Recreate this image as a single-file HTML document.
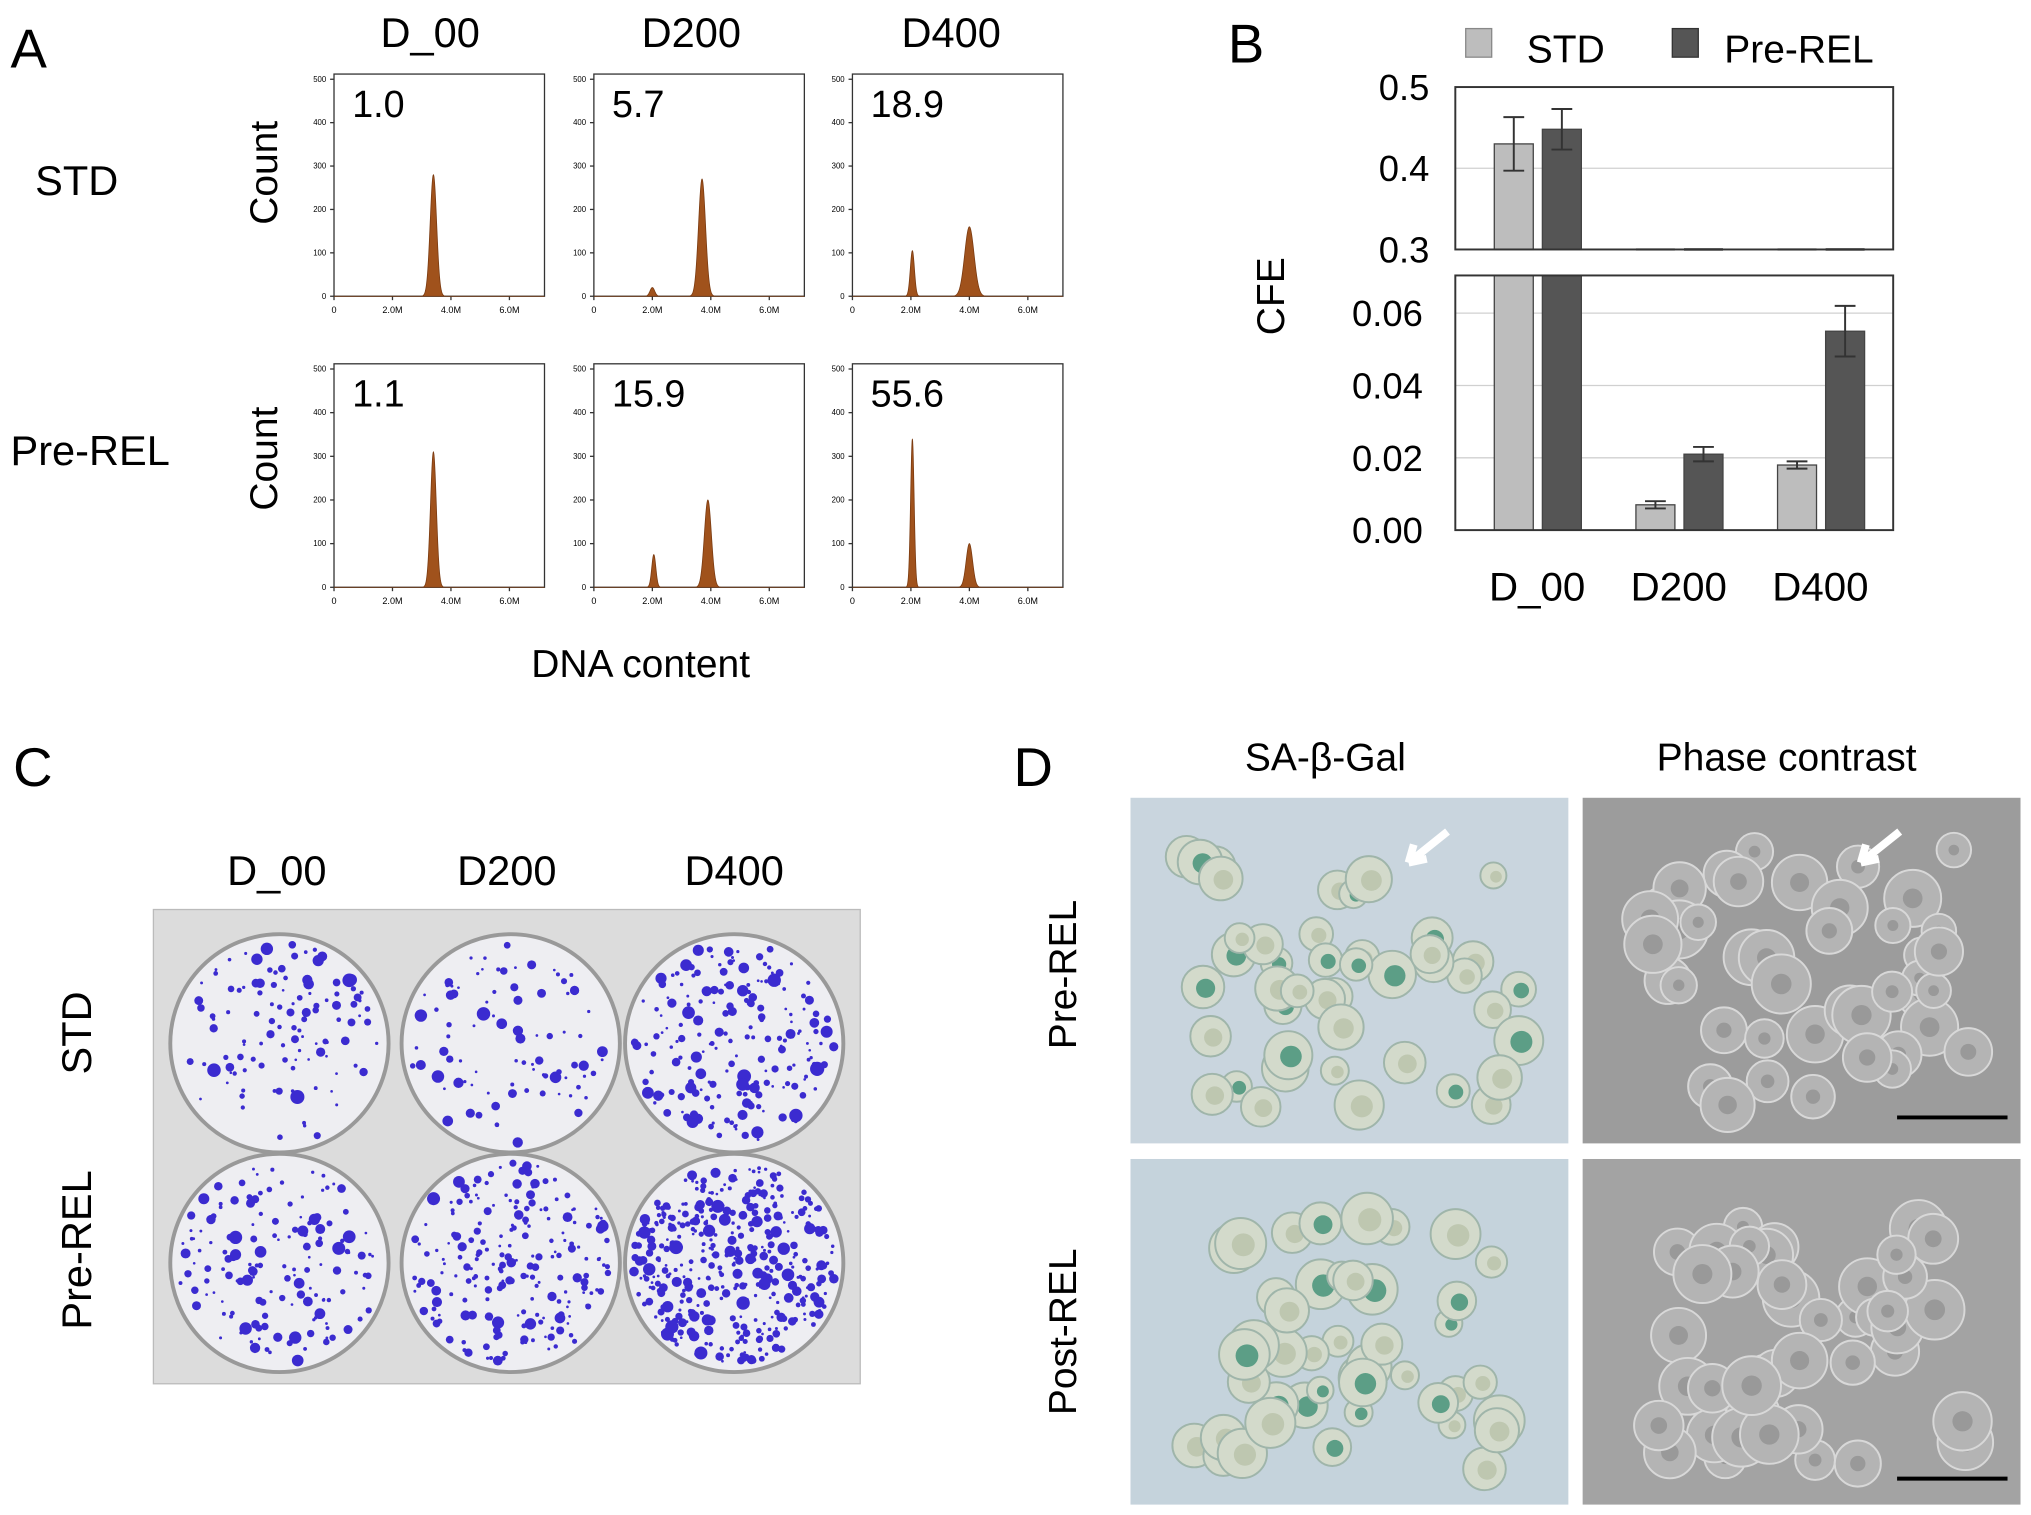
<!DOCTYPE html>
<html><head><meta charset="utf-8"><style>
html,body{margin:0;padding:0;background:#fff}
svg{display:block}
text{font-family:"Liberation Sans",sans-serif}
</style></head><body>
<svg id="fig" width="2031" height="1515" viewBox="0 0 1563 1166" xmlns="http://www.w3.org/2000/svg">
<rect width="1563" height="1166" fill="#fff"/>
<g id="panelA">
<text x="8" y="52" font-size="42">A</text>
<text x="331" y="36" font-size="32" text-anchor="middle">D_00</text>
<text x="532" y="36" font-size="32" text-anchor="middle">D200</text>
<text x="732" y="36" font-size="32" text-anchor="middle">D400</text>
<text x="27" y="150" font-size="32">STD</text>
<text x="8" y="358" font-size="32">Pre-REL</text>
<text transform="translate(213,133) rotate(-90)" font-size="30" text-anchor="middle">Count</text>
<text transform="translate(213,353) rotate(-90)" font-size="30" text-anchor="middle">Count</text>
<text x="493" y="521" font-size="30" text-anchor="middle">DNA content</text>
</g>
<g id="panelB">
<text x="945" y="48" font-size="42">B</text>
<rect x="1128" y="22" width="20" height="22" fill="#bdbdbd" stroke="#888"/>
<text x="1175" y="48" font-size="30">STD</text>
<rect x="1287" y="22" width="20" height="22" fill="#555" stroke="#333"/>
<text x="1327" y="48" font-size="30">Pre-REL</text>
<text transform="translate(988,228) rotate(-90)" font-size="30" text-anchor="middle">CFE</text>
</g>
<g id="panelC">
<text x="10" y="605" font-size="42">C</text>
<text x="213" y="681" font-size="32" text-anchor="middle">D_00</text>
<text x="390" y="681" font-size="32" text-anchor="middle">D200</text>
<text x="565" y="681" font-size="32" text-anchor="middle">D400</text>
<text transform="translate(70,795) rotate(-90)" font-size="32" text-anchor="middle">STD</text>
<text transform="translate(70,962) rotate(-90)" font-size="32" text-anchor="middle">Pre-REL</text>
<rect x="118" y="700" width="544" height="365" fill="#dcdcdc" stroke="#bbb"/>
</g>
<g id="panelD">
<text x="780" y="605" font-size="42">D</text>
<text x="1020" y="593" font-size="30" text-anchor="middle">SA-β-Gal</text>
<text x="1375" y="593" font-size="30" text-anchor="middle">Phase contrast</text>
<text transform="translate(828,750) rotate(-90)" font-size="30" text-anchor="middle">Pre-REL</text>
<text transform="translate(828,1025) rotate(-90)" font-size="30" text-anchor="middle">Post-REL</text>
</g>
</svg>
<script>
const NS="http://www.w3.org/2000/svg";
const svg=document.getElementById('fig');
function mk(tag,attrs,parent){const e=document.createElementNS(NS,tag);for(const k in attrs)e.setAttribute(k,attrs[k]);(parent||svg).appendChild(e);return e;}

// ---- Panel A histogram data ----
const histPercents=["1.0","5.7","18.9","1.1","15.9","55.6"];
const peakPositions=[[3.4],[2.0,3.7],[2.05,4.0],[3.4],[2.05,3.9],[2.05,4.0]];
const peakHeights=[[280],[20,270],[105,160],[310],[75,200],[340,100]];
const peakWidths=[[0.11],[0.08,0.12],[0.07,0.16],[0.1],[0.07,0.12],[0.06,0.11]];
const countTicks=[0,100,200,300,400,500];
const dnaTicks=[0,2,4,6];
const dnaTickLabels=["0","2.0M","4.0M","6.0M"];
const plotXs=[257,457,656];const plotYs=[[57,228],[280,452]];
const pa=document.getElementById('panelA');
for(let i=0;i<6;i++){
  const r=Math.floor(i/3),c=i%3;
  const x0=plotXs[c],x1=x0+162,yt=plotYs[r][0],yb=plotYs[r][1];
  const g=mk('g',{},pa);
  
  
  const xs=v=>x0+v/7.2*(x1-x0), ys=v=>yb-v/500*(yb-yt-4);
  const fr=mk('rect',{x:x0,y:yt,width:x1-x0,height:yb-yt,fill:'none',stroke:'#333','stroke-width':1},g);
  
  countTicks.forEach(t=>{mk('line',{x1:x0-3,x2:x0,y1:ys(t),y2:ys(t),stroke:'#333'},g);
    const tt=mk('text',{x:x0-6,y:ys(t)+2,'font-size':6,'text-anchor':'end'},g);tt.textContent=t;
    });
  dnaTicks.forEach((t,k)=>{mk('line',{x1:xs(t),x2:xs(t),y1:yb,y2:yb+3,stroke:'#333'},g);
    const tt=mk('text',{x:xs(t),y:yb+13,'font-size':7,'text-anchor':'middle'},g);tt.textContent=dnaTickLabels[k];
    });
  let d='M'+xs(0)+','+yb;
  for(let v=0;v<=7.2;v+=0.01){let h=0;peakPositions[i].forEach((p,k)=>{h+=peakHeights[i][k]*Math.exp(-Math.pow((v-p)/peakWidths[i][k],2)/2);});d+=' L'+xs(v).toFixed(2)+','+ys(h).toFixed(2);}
  d+=' L'+xs(7.2)+','+yb+' Z';
  const p=mk('path',{d:d,fill:'#a0521c',stroke:'#7a3a10','stroke-width':0.6},g);
  
  const t=mk('text',{x:x0+14,y:yt+33,'font-size':29},g);t.textContent=histPercents[i];
  
}

// ---- Panel B bar data ----
const categories=["D_00","D200","D400"];
const stdValues=[0.43,0.007,0.018];
const stdErrors=[0.033,0.001,0.001];
const preValues=[0.448,0.021,0.055];
const preErrors=[0.025,0.002,0.007];
const upperTicks=[0.3,0.4,0.5];
const lowerTicks=[0,0.02,0.04,0.06];
const lowerTickLabels=["0.00","0.02","0.04","0.06"];
const pb=document.getElementById('panelB');
const bx0=1120,bx1=1457;
const yUp=v=>192-(v-0.3)/0.2*125;
const yLo=v=>408-v/0.06*167;
const xCat=i=>1183+i*109;
upperTicks.forEach(t=>{if(t>0.3&&t<0.5)mk('line',{x1:bx0,x2:bx1,y1:yUp(t),y2:yUp(t),stroke:'#d0d0d0'},pb);
  const tt=mk('text',{x:bx0-20,y:yUp(t)+10,'font-size':28,'text-anchor':'end'},pb);tt.textContent=t.toFixed(1);
  });
lowerTicks.forEach((t,k)=>{if(t>0)mk('line',{x1:bx0,x2:bx1,y1:yLo(t),y2:yLo(t),stroke:'#d0d0d0'},pb);
  const tt=mk('text',{x:bx0-25,y:yLo(t)+10,'font-size':28,'text-anchor':'end'},pb);tt.textContent=lowerTickLabels[k];
  });
function bar(x,w,val,err,fill,name){
  let top,bot=408;
  if(val>0.3){top=yUp(val);}else top=yLo(val);
  if(val>0.3){
    const b1=mk('rect',{x:x,y:top,width:w,height:192-top,fill:fill,stroke:'#444'},pb);
    
    const b2=mk('rect',{x:x,y:212,width:w,height:196,fill:fill,stroke:'#444'},pb);
    
    const a=yUp(val+err),b=yUp(val-err),cx=x+w/2;
    const e=mk('path',{d:`M${cx},${a}V${b}M${cx-8},${a}h16M${cx-8},${b}h16`,stroke:'#333','stroke-width':1.5,fill:'none'},pb);
    
  }else{
    const b2=mk('rect',{x:x,y:top,width:w,height:bot-top,fill:fill,stroke:'#444'},pb);
    
    mk('line',{x1:x,x2:x+w,y1:192,y2:192,stroke:fill,'stroke-width':2},pb);
    const a=yLo(val+err),b=yLo(val-err),cx=x+w/2;
    const e=mk('path',{d:`M${cx},${a}V${b}M${cx-8},${a}h16M${cx-8},${b}h16`,stroke:'#333','stroke-width':1.5,fill:'none'},pb);
    
  }
}
categories.forEach((c,i)=>{
  bar(xCat(i)-33,30,stdValues[i],stdErrors[i],'#bdbdbd','bar-std-'+c.toLowerCase());
  bar(xCat(i)+4,30,preValues[i],preErrors[i],'#555','bar-pre-rel-'+c.toLowerCase());
  const t=mk('text',{x:xCat(i),y:462,'font-size':31,'text-anchor':'middle'},pb);t.textContent=c;
  
});
const f1=mk('rect',{x:bx0,y:67,width:bx1-bx0,height:125,fill:'none',stroke:'#333','stroke-width':1.5},pb);

const f2=mk('rect',{x:bx0,y:212,width:bx1-bx0,height:196,fill:'none',stroke:'#333','stroke-width':1.5},pb);


// ---- Panel C wells (texture) ----
const pc=document.getElementById('panelC');
let seed=7;const rnd=()=>{seed=(seed*16807)%2147483647;return seed/2147483647;};
const wellDensity=[120,90,200,150,210,420];
const wellCenters=[[215,803],[393,803],[565,803],[215,972],[393,972],[565,972]];
wellCenters.forEach((w,i)=>{
  const g=mk('g',{},pc);
  mk('circle',{cx:w[0],cy:w[1],r:84,fill:'#eeeef2',stroke:'#999','stroke-width':3},g);
  for(let k=0;k<wellDensity[i];k++){const a=rnd()*6.283,r=Math.sqrt(rnd())*78;
    mk('circle',{cx:w[0]+r*Math.cos(a),cy:w[1]+r*Math.sin(a),r:1+rnd()*rnd()*4.5,fill:'#3b2bd0'},g);}
});

// ---- Panel D micrographs (texture) ----
const pd=document.getElementById('panelD');
const panes=[[870,614,'#c9d5de','sa'],[1218,614,'#9c9c9c','ph'],[870,892,'#c5d3dc','sa'],[1218,892,'#a3a3a3','ph']];
panes.forEach((p,i)=>{
  const g=mk('g',{},pd);
  mk('rect',{x:p[0],y:p[1],width:337,height:266,fill:p[2]},g);
  for(let k=0;k<45;k++){const cx=p[0]+40+rnd()*260,cy=p[1]+40+rnd()*200,r=10+rnd()*10;
    if(p[3]=='sa'){mk('circle',{cx:cx,cy:cy,r:r,fill:'#d3dacb',stroke:'#9fb5aa','stroke-width':1.5},g);
      mk('circle',{cx:cx+2,cy:cy+1,r:r*0.45,fill:rnd()<0.4?'#5c9e86':'#bec7b0'},g);}
    else{mk('circle',{cx:cx,cy:cy,r:r+3,fill:'#b4b4b4',stroke:'#d8d8d8','stroke-width':1.5},g);
      mk('circle',{cx:cx,cy:cy,r:r*0.4,fill:'#999'},g);}
  }
  if(p[3]=='ph')mk('line',{x1:p[0]+242,x2:p[0]+327,y1:p[1]+246,y2:p[1]+246,stroke:'#000','stroke-width':3},g);
  if(i<2)mk('path',{d:`M${p[0]+244},${p[1]+26}l-30,24m0,0l4,-14m-4,14l14,-3`,stroke:'#fff','stroke-width':6,fill:'none'},g);
});
</script>
</body></html>
